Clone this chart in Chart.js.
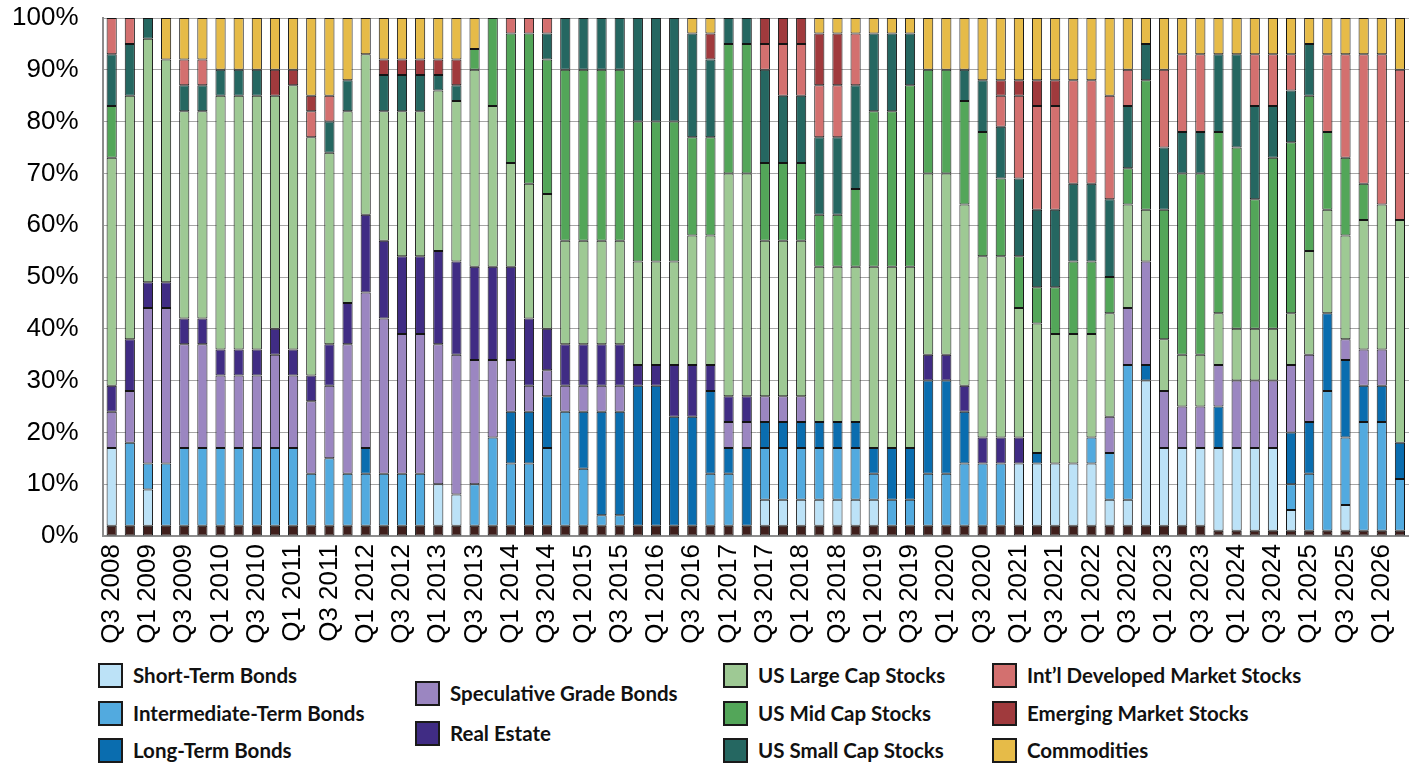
<!DOCTYPE html>
<html>
<head>
<meta charset="utf-8">
<title>Allocation by quarter</title>
<script src="https://cdn.jsdelivr.net/npm/chart.js@4.4.1/dist/chart.umd.min.js"></script>
<style>
  html, body { margin: 0; padding: 0; background: #fff; overflow: hidden; }
  #wrap { position: relative; width: 1409px; height: 763px; }
  #allocChart { position: absolute; left: 0; top: 0; }
  .legend-item {
    position: absolute; height: 26px; display: flex; align-items: center;
    font-family: Lato, "Liberation Sans", Arial, sans-serif; font-weight: bold;
    font-size: 20.5px; color: #111; white-space: nowrap;
  }
  .legend-item .swatch {
    width: 25px; height: 25px; box-sizing: border-box; border: 2px solid #1a1a1a;
    margin-right: 10px; flex: none;
  }
</style>
</head>
<body>
<div id="wrap">
  <canvas id="allocChart" width="1409" height="655"></canvas>
  <div id="legend"></div>
</div>
<script>
// quarterly allocation mix, % of portfolio (bottom segment first)
var quarters = [
  'Q3 2008', 'Q4 2008',
  'Q1 2009', 'Q2 2009', 'Q3 2009', 'Q4 2009',
  'Q1 2010', 'Q2 2010', 'Q3 2010', 'Q4 2010',
  'Q1 2011', 'Q2 2011', 'Q3 2011', 'Q4 2011',
  'Q1 2012', 'Q2 2012', 'Q3 2012', 'Q4 2012',
  'Q1 2013', 'Q2 2013', 'Q3 2013', 'Q4 2013',
  'Q1 2014', 'Q2 2014', 'Q3 2014', 'Q4 2014',
  'Q1 2015', 'Q2 2015', 'Q3 2015', 'Q4 2015',
  'Q1 2016', 'Q2 2016', 'Q3 2016', 'Q4 2016',
  'Q1 2017', 'Q2 2017', 'Q3 2017', 'Q4 2017',
  'Q1 2018', 'Q2 2018', 'Q3 2018', 'Q4 2018',
  'Q1 2019', 'Q2 2019', 'Q3 2019', 'Q4 2019',
  'Q1 2020', 'Q2 2020', 'Q3 2020', 'Q4 2020',
  'Q1 2021', 'Q2 2021', 'Q3 2021', 'Q4 2021',
  'Q1 2022', 'Q2 2022', 'Q3 2022', 'Q4 2022',
  'Q1 2023', 'Q2 2023', 'Q3 2023', 'Q4 2023',
  'Q1 2024', 'Q2 2024', 'Q3 2024', 'Q4 2024',
  'Q1 2025', 'Q2 2025', 'Q3 2025', 'Q4 2025',
  'Q1 2026', 'Q2 2026'
];

var yTicks = [0, 10, 20, 30, 40, 50, 60, 70, 80, 90, 100];

var cash = [
  2, 2, 2, 2, 2, 2, 2, 2, 2, 2, 2, 2,
  2, 2, 2, 2, 2, 2, 2, 2, 2, 2, 2, 2,
  2, 2, 2, 2, 2, 2, 2, 2, 2, 2, 2, 2,
  2, 2, 2, 2, 2, 2, 2, 2, 2, 2, 2, 2,
  2, 2, 2, 2, 2, 2, 2, 2, 2, 2, 2, 2,
  2, 1, 1, 1, 1, 1, 1, 1, 1, 1, 1, 1
];
var shortTerm = [
  15, 0, 7, 0, 0, 0, 0, 0, 0, 0, 0, 0,
  0, 0, 0, 0, 0, 0, 8, 6, 0, 0, 0, 0,
  0, 0, 0, 0, 0, 0, 0, 0, 0, 0, 0, 0,
  5, 5, 5, 5, 5, 5, 5, 0, 0, 0, 0, 0,
  0, 0, 12, 12, 12, 12, 12, 5, 5, 28, 15, 15,
  15, 16, 16, 16, 16, 4, 0, 0, 5, 0, 0, 0
];
var intermediate = [
  0, 16, 5, 12, 15, 15, 15, 15, 15, 15, 15, 10,
  13, 10, 10, 10, 10, 10, 0, 0, 8, 17, 12, 12,
  15, 22, 11, 2, 2, 0, 0, 0, 0, 10, 10, 0,
  10, 10, 10, 10, 10, 10, 5, 5, 5, 10, 10, 12,
  12, 12, 0, 0, 0, 0, 5, 9, 26, 0, 0, 0,
  0, 0, 0, 0, 0, 5, 11, 27, 13, 21, 21, 10
];
var longTerm = [
  0, 0, 0, 0, 0, 0, 0, 0, 0, 0, 0, 0,
  0, 0, 5, 0, 0, 0, 0, 0, 0, 0, 10, 10,
  10, 0, 11, 20, 20, 27, 27, 21, 21, 16, 5, 15,
  5, 5, 5, 5, 5, 5, 5, 10, 10, 18, 18, 10,
  0, 0, 0, 2, 0, 0, 0, 0, 0, 3, 0, 0,
  0, 8, 0, 0, 0, 10, 10, 15, 15, 7, 7, 7
];
var speculative = [
  7, 10, 30, 30, 20, 20, 14, 14, 14, 18, 14, 14,
  14, 25, 30, 30, 27, 27, 27, 27, 24, 15, 10, 5,
  5, 5, 5, 5, 5, 0, 0, 0, 0, 0, 5, 5,
  5, 5, 5, 0, 0, 0, 0, 0, 0, 0, 0, 0,
  0, 0, 0, 0, 0, 0, 0, 7, 11, 20, 11, 8,
  8, 8, 13, 13, 13, 13, 13, 0, 4, 7, 7, 0
];
var realEstate = [
  5, 10, 5, 5, 5, 5, 5, 5, 5, 5, 5, 5,
  8, 8, 15, 15, 15, 15, 18, 18, 18, 18, 18, 13,
  8, 8, 8, 8, 8, 4, 4, 10, 10, 5, 5, 5,
  0, 0, 0, 0, 0, 0, 0, 0, 0, 5, 5, 5,
  5, 5, 5, 0, 0, 0, 0, 0, 0, 0, 0, 0,
  0, 0, 0, 0, 0, 0, 0, 0, 0, 0, 0, 0
];
var largeCap = [
  44, 47, 47, 43, 40, 40, 49, 49, 49, 45, 51, 46,
  37, 37, 31, 25, 28, 28, 31, 31, 38, 31, 20, 26,
  26, 20, 20, 20, 20, 20, 20, 20, 25, 25, 43, 43,
  30, 30, 30, 30, 30, 30, 35, 35, 35, 35, 35, 35,
  35, 35, 25, 25, 25, 25, 20, 20, 20, 10, 10, 10,
  10, 10, 10, 10, 10, 10, 20, 20, 20, 25, 28, 43
];
var midCap = [
  10, 0, 0, 0, 0, 0, 0, 0, 0, 0, 0, 0,
  0, 0, 0, 0, 0, 0, 0, 0, 4, 17, 25, 29,
  26, 33, 33, 33, 33, 27, 27, 27, 19, 19, 25, 25,
  15, 15, 15, 10, 10, 15, 30, 30, 35, 20, 20, 20,
  24, 15, 10, 7, 9, 14, 14, 7, 7, 25, 25, 35,
  35, 35, 35, 25, 33, 33, 30, 15, 15, 7, 0, 0
];
var smallCap = [
  10, 10, 4, 0, 5, 5, 5, 5, 5, 0, 0, 0,
  6, 6, 0, 7, 7, 7, 3, 3, 0, 0, 0, 0,
  5, 10, 10, 10, 10, 20, 20, 20, 20, 15, 5, 5,
  18, 13, 13, 15, 15, 20, 15, 15, 10, 0, 0, 6,
  10, 10, 15, 15, 15, 15, 15, 15, 12, 7, 12, 8,
  8, 15, 18, 18, 10, 10, 10, 0, 0, 0, 0, 0
];
var intlDeveloped = [
  7, 5, 0, 0, 5, 5, 0, 0, 0, 0, 0, 5,
  5, 0, 0, 0, 0, 0, 0, 0, 0, 0, 3, 3,
  3, 0, 0, 0, 0, 0, 0, 0, 0, 0, 0, 0,
  5, 10, 10, 10, 10, 10, 0, 0, 0, 0, 0, 0,
  0, 6, 16, 20, 20, 20, 20, 20, 7, 0, 15, 15,
  15, 0, 0, 10, 10, 7, 0, 15, 20, 25, 29, 29
];
var emerging = [
  0, 0, 0, 0, 0, 0, 0, 0, 0, 5, 3, 3,
  0, 0, 0, 3, 3, 3, 3, 5, 0, 0, 0, 0,
  0, 0, 0, 0, 0, 0, 0, 0, 0, 5, 0, 0,
  5, 5, 5, 10, 10, 0, 0, 0, 0, 0, 0, 0,
  0, 3, 3, 5, 5, 0, 0, 0, 0, 0, 0, 0,
  0, 0, 0, 0, 0, 0, 0, 0, 0, 0, 0, 0
];
var commodities = [
  0, 0, 0, 8, 8, 8, 10, 10, 10, 10, 10, 15,
  15, 12, 7, 8, 8, 8, 8, 8, 6, 0, 0, 0,
  0, 0, 0, 0, 0, 0, 0, 0, 3, 3, 0, 0,
  0, 0, 0, 3, 3, 3, 3, 3, 3, 10, 10, 10,
  12, 12, 12, 12, 12, 12, 12, 15, 10, 5, 10, 7,
  7, 7, 7, 7, 7, 7, 5, 7, 7, 7, 7, 10
];

(function() {
  'use strict';

  var series = [
    { label: 'Cash', data: cash, color: '#3f1f1c', legend: null },
    { label: 'Short-Term Bonds', data: shortTerm, color: '#bce2f7', legend: [98, 675] },
    { label: 'Intermediate-Term Bonds', data: intermediate, color: '#52aadf', legend: [98, 713] },
    { label: 'Long-Term Bonds', data: longTerm, color: '#0a6daf', legend: [98, 750] },
    { label: 'Speculative Grade Bonds', data: speculative, color: '#9b86c1', legend: [415, 693] },
    { label: 'Real Estate', data: realEstate, color: '#402c84', legend: [415, 733] },
    { label: 'US Large Cap Stocks', data: largeCap, color: '#9ec994', legend: [723, 675] },
    { label: 'US Mid Cap Stocks', data: midCap, color: '#53a659', legend: [723, 713] },
    { label: 'US Small Cap Stocks', data: smallCap, color: '#256761', legend: [723, 750] },
    { label: 'Int\u2019l Developed Market Stocks', data: intlDeveloped, color: '#d3706f', legend: [992, 675] },
    { label: 'Emerging Market Stocks', data: emerging, color: '#a03a3d', legend: [992, 713] },
    { label: 'Commodities', data: commodities, color: '#e6bb48', legend: [992, 750] }
  ];

  var tickFont = { family: '"Liberation Sans", Arial, sans-serif', size: 26 };

  var datasets = series.map(function(s) {
    return {
      label: s.label,
      data: s.data,
      backgroundColor: s.color,
      borderColor: '#141414',
      borderWidth: 1,
      borderSkipped: false,
      barPercentage: 0.56,
      categoryPercentage: 1
    };
  });

  var canvas = document.getElementById('allocChart');

  new Chart(canvas.getContext('2d'), {
    type: 'bar',
    data: { labels: quarters, datasets: datasets },
    options: {
      responsive: false,
      animation: false,
      layout: { padding: { top: 18, left: 0, right: 0, bottom: 0 } },
      plugins: {
        legend: { display: false },
        tooltip: { enabled: false }
      },
      scales: {
        x: {
          stacked: true,
          grid: { display: false, drawTicks: false },
          border: { display: true, color: '#8c8c8c', width: 2 },
          ticks: {
            autoSkip: false,
            maxRotation: 90,
            minRotation: 90,
            padding: 8,
            color: '#000',
            font: tickFont,
            callback: function(value, index) {
              return index % 2 === 0 ? this.getLabelForValue(value) : '';
            }
          },
          afterFit: function(scale) {
            scale.height = 655 - 536;
            scale.paddingLeft = 0;
            scale.paddingRight = 0;
          }
        },
        y: {
          stacked: true,
          min: 0,
          max: 100,
          afterBuildTicks: function(scale) {
            scale.ticks = yTicks.map(function(v) { return { value: v }; });
          },
          grid: { color: '#a6a6a6', lineWidth: 1, drawTicks: false },
          border: { display: true, color: '#8c8c8c', width: 2 },
          ticks: {
            padding: 24,
            color: '#000',
            font: tickFont,
            callback: function(value) { return value + '%'; }
          },
          afterFit: function(scale) {
            scale.width = 102.6;
            scale.paddingTop = 0;
            scale.paddingBottom = 0;
          }
        }
      }
    }
  });

  // legend laid out like the original, four loose columns
  var legendBox = document.getElementById('legend');
  series.forEach(function(s) {
    if (!s.legend) return;
    var item = document.createElement('div');
    item.className = 'legend-item';
    item.style.left = s.legend[0] + 'px';
    item.style.top = (s.legend[1] - 13) + 'px';
    var sw = document.createElement('span');
    sw.className = 'swatch';
    sw.style.background = s.color;
    item.appendChild(sw);
    item.appendChild(document.createTextNode(s.label));
    legendBox.appendChild(item);
  });
})();
</script>
</body>
</html>
